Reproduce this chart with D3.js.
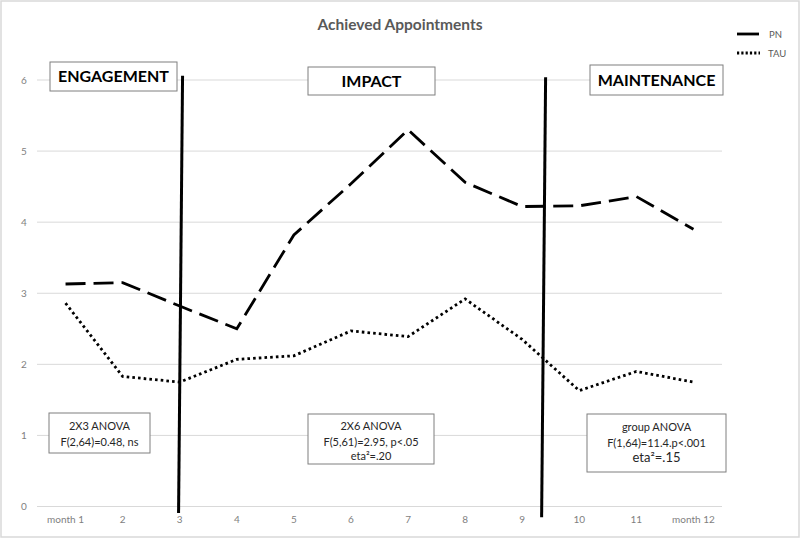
<!DOCTYPE html>
<html><head><meta charset="utf-8">
<script src="https://cdn.jsdelivr.net/npm/d3@7"></script>
<style>body{margin:0;background:#fff}svg{display:block}</style>
</head><body>
<svg id="c" width="800" height="540"></svg>
<script>
const months = ["month 1","2","3","4","5","6","7","8","9","10","11","month 12"];
const pnValues  = [3.13,3.15,2.82,2.50,3.82,4.54,5.30,4.56,4.22,4.23,4.36,3.90];
const tauValues = [2.86,1.83,1.75,2.07,2.12,2.47,2.39,2.92,2.35,1.63,1.90,1.75];
const yTicks = [0,1,2,3,4,5,6];
const seriesNames = ["PN","TAU"];
const title = "Achieved Appointments";
// phase dividers: month position at top / bottom, and value extent
const dividerTop = [3.05, 9.41];
const dividerBottom = [2.98, 9.34];
const dividerValTop = [6.06, 6.04];
const dividerValBottom = [-0.09, -0.15];
const phaseLabels = ["ENGAGEMENT","IMPACT","MAINTENANCE"];
const statLines = [
  ["2X3 ANOVA","F(2,64)=0.48, ns"],
  ["2X6 ANOVA","F(5,61)=2.95, p<.05","eta²=.20"],
  ["group ANOVA","F(1,64)=11.4.p<.001","eta²=.15"]
];

const svg = d3.select("#c");
const W = 800, H = 540;
const plot = {left:37, right:722, top:80, bottom:506.5};

svg.append("rect").attr("x",1).attr("y",1).attr("width",W-2).attr("height",H-4)
  .attr("fill","#fff").attr("stroke","#d9d9d9").attr("stroke-width",1.5);

const x = d3.scalePoint().domain(months).range([plot.left, plot.right]).padding(0.5);
const xm = d3.scaleLinear().domain([1,12]).range([x(months[0]), x(months[11])]);
const y = d3.scaleLinear().domain([0,6]).range([plot.bottom, plot.top]);

// gridlines
svg.append("g").selectAll("line").data(yTicks).join("line")
  .attr("x1",plot.left).attr("x2",plot.right)
  .attr("y1",d=>y(d)).attr("y2",d=>y(d))
  .attr("stroke","#d9d9d9").attr("stroke-width",1);

// y labels
svg.append("g").selectAll("text").data(yTicks).join("text")
  .attr("x",24).attr("y",d=>y(d)+3.5).attr("text-anchor","middle")
  .attr("font-family","Lato, 'Open Sans', sans-serif").attr("font-size",10).attr("fill","#7f7f7f")
  .text(d=>d);

// x labels
svg.append("g").selectAll("text").data(months).join("text")
  .attr("x",d=>x(d)).attr("y",523).attr("text-anchor","middle")
  .attr("font-family","Lato, 'Open Sans', sans-serif").attr("font-size",10).attr("fill","#7f7f7f")
  .text(d=>d);

// title
svg.append("text").attr("x",400).attr("y",30).attr("text-anchor","middle")
  .attr("font-family","Lato, 'Open Sans', sans-serif").attr("font-weight","bold")
  .attr("font-size",15.5).attr("fill","#595959").text(title);

// lines
const line = d3.line().x((d,i)=>x(months[i])).y(d=>y(d));
svg.append("path").datum(pnValues).attr("d",line).attr("fill","none")
  .attr("stroke","#000").attr("stroke-width",2.8).attr("stroke-dasharray","20,8");
svg.append("path").datum(tauValues).attr("d",line).attr("fill","none")
  .attr("stroke","#000").attr("stroke-width",2.8).attr("stroke-dasharray","2.6,3.1");

// phase dividers
svg.append("g").selectAll("line").data(dividerTop).join("line")
  .attr("x1",(d,i)=>xm(d)).attr("x2",(d,i)=>xm(dividerBottom[i]))
  .attr("y1",(d,i)=>y(dividerValTop[i])).attr("y2",(d,i)=>y(dividerValBottom[i]))
  .attr("stroke","#000").attr("stroke-width",3);

// legend
const leg = svg.append("g");
leg.append("line").attr("x1",737).attr("x2",759).attr("y1",34).attr("y2",34)
  .attr("stroke","#000").attr("stroke-width",2.8);
leg.append("line").attr("x1",737).attr("x2",760).attr("y1",53).attr("y2",53)
  .attr("stroke","#000").attr("stroke-width",2.8).attr("stroke-dasharray","2.2,2.1");
leg.selectAll("text").data(seriesNames).join("text")
  .attr("x",(d,i)=>i===0?769:768).attr("y",(d,i)=>i===0?38:57)
  .attr("font-family","Lato, 'Open Sans', sans-serif").attr("font-size",9.5).attr("fill","#595959")
  .text(d=>d);

// phase label boxes
const phaseBoxes = [
  {x:50,y:62,w:127,h:29},
  {x:308,y:67,w:127,h:28},
  {x:590,y:65,w:133,h:30}
];
const pg = svg.append("g").selectAll("g").data(phaseLabels).join("g");
pg.append("rect").attr("x",(d,i)=>phaseBoxes[i].x).attr("y",(d,i)=>phaseBoxes[i].y)
  .attr("width",(d,i)=>phaseBoxes[i].w).attr("height",(d,i)=>phaseBoxes[i].h)
  .attr("fill","#fff").attr("stroke","#7f7f7f").attr("stroke-width",1);
pg.append("text").attr("x",(d,i)=>phaseBoxes[i].x+phaseBoxes[i].w/2)
  .attr("y",(d,i)=>phaseBoxes[i].y+phaseBoxes[i].h/2+5.5)
  .attr("text-anchor","middle").attr("font-family","Lato, 'Open Sans', sans-serif")
  .attr("font-weight","bold").attr("font-size",16).attr("fill","#000").text(d=>d);

// stat boxes
const statBoxes = [
  {x:49,y:413,w:101,h:40,ly:[430,446]},
  {x:308,y:414,w:126,h:50,ly:[430,446,460]},
  {x:587,y:414,w:139,h:58,ly:[431,447,462]}
];
const sg = svg.append("g").selectAll("g").data(statLines).join("g");
sg.append("rect").attr("x",(d,i)=>statBoxes[i].x).attr("y",(d,i)=>statBoxes[i].y)
  .attr("width",(d,i)=>statBoxes[i].w).attr("height",(d,i)=>statBoxes[i].h)
  .attr("fill","#fff").attr("stroke","#7f7f7f").attr("stroke-width",1);
sg.each(function(d,i){
  const b = statBoxes[i];
  d3.select(this).selectAll("text").data(d).join("text")
    .attr("x",b.x+b.w/2).attr("y",(t,j)=>b.ly[j]).attr("text-anchor","middle")
    .attr("font-family","Lato, 'Open Sans', sans-serif")
    .attr("font-size",(t,j)=> (i===2 && j===2) ? 13 : 11)
    .attr("fill","#262626").text(t=>t);
});
</script>
</body></html>
